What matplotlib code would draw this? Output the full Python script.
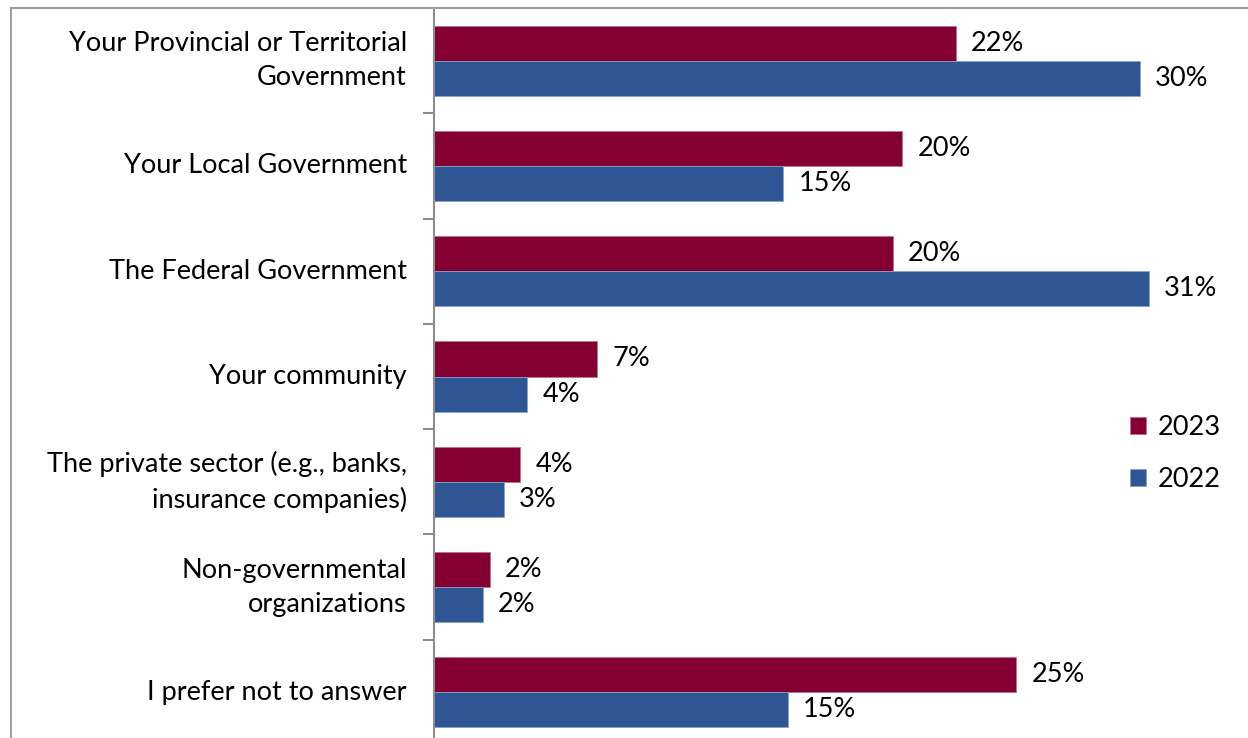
import numpy as np
import matplotlib
matplotlib.use("Agg")
from matplotlib import pyplot as plt
from matplotlib.patches import Rectangle

# Categorie e valori (%)
categories = [
    "Your Provincial or Territorial\nGovernment",
    "Your Local Government",
    "The Federal Government",
    "Your community",
    "The private sector (e.g., banks,\ninsurance companies)",
    "Non-governmental\norganizations",
    "I prefer not to answer",
]
values_2023 = [22.4, 20.1, 19.7, 7.0, 3.7, 2.4, 25.0]
values_2022 = [30.3, 15.0, 30.7, 4.0, 3.0, 2.1, 15.2]
series_labels = ["2023", "2022"]

color_2023 = "#840032"
color_2022 = "#2E5594"

plt.rcParams["font.family"] = ["Lato", "DejaVu Sans"]
fs = 19.5

fig = plt.figure(figsize=(12.48, 7.38), dpi=100)
W, H = 1248, 738

# assi in pixel
left, right = 434, 1226
top, bottom = 8, 745
ax = fig.add_axes([left / W, (H - bottom) / H, (right - left) / W, (bottom - top) / H])

y = np.arange(len(categories))
h = 1 / 3
ax.barh(y - h / 2, values_2023, height=h, color=color_2023, edgecolor="#c07090", linewidth=0.6, label=series_labels[0])
ax.barh(y + h / 2, values_2022, height=h, color=color_2022, edgecolor="#8aa0c8", linewidth=0.6, label=series_labels[1])

for yi, v in zip(y, values_2023):
    ax.text(v + 0.65, yi - h / 2, f"{v:.0f}%", va="center", ha="left", fontsize=fs)
for yi, v in zip(y, values_2022):
    ax.text(v + 0.65, yi + h / 2, f"{v:.0f}%", va="center", ha="left", fontsize=fs)

ax.set_xlim(0, 34)
ax.set_ylim(len(categories) - 0.5, -0.5)

# tacche tra le categorie, etichette al centro
ax.set_yticks(y)
ax.set_yticklabels(categories, fontsize=fs, ha="right", va="center", linespacing=1.45)
ax.tick_params(axis="y", which="major", length=0, pad=19.5)
ax.set_yticks(np.arange(len(categories)) + 0.5, minor=True)
ax.tick_params(axis="y", which="minor", length=8, width=1.5, color="#8c8c8c")
ax.set_xticks([])

for s in ["top", "right", "bottom"]:
    ax.spines[s].set_visible(False)
ax.spines["left"].set_color("#8c8c8c")
ax.spines["left"].set_linewidth(1.5)

leg = ax.legend(loc="center left", bbox_to_anchor=(0.879, 0.395), frameon=False, fontsize=fs,
                borderaxespad=0, borderpad=0,
                handlelength=0.6, handleheight=0.6, handletextpad=0.4, labelspacing=1.0)

# cornice del grafico
fig.patches.append(Rectangle((11 / W, -0.1), 2.0, 1.1 - 8 / H, transform=fig.transFigure,
                             fill=False, edgecolor="#a0a0a0", linewidth=1.5))

plt.savefig("out.png", dpi=100)
